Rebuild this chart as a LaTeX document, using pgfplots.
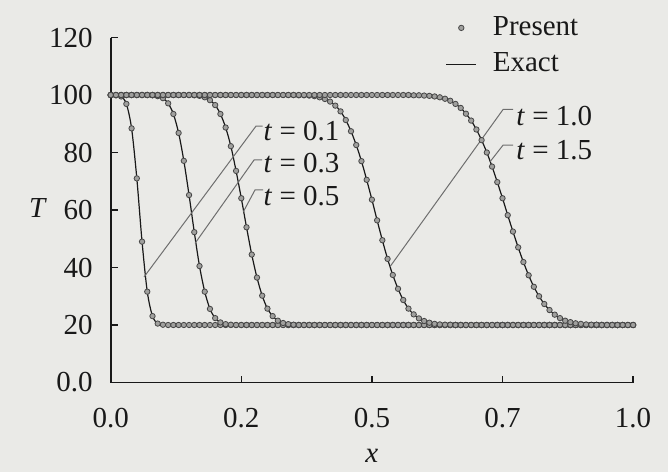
\documentclass[border=0pt]{standalone}
\usepackage{fontspec}
\setmainfont{Liberation Serif}
\usepackage{pgfplots}
\usepackage{pgfplotstable}
\pgfplotsset{compat=1.18}
\definecolor{paper}{RGB}{234,234,231}
\definecolor{ink}{RGB}{25,25,25}
\definecolor{mkfill}{RGB}{160,160,158}
\definecolor{mkdraw}{RGB}{70,70,70}
\definecolor{leader}{RGB}{110,110,110}
\pgfplotsset{
  presentleg/.style={legend image code/.code={\draw[##1] plot coordinates {(7.5pt,0pt)};}},
  exactleg/.style={legend image code/.code={\draw[##1] (0pt,0pt) -- (15pt,0pt);}},
}

% x, T(t=0.1), T(t=0.3), T(t=0.5), T(t=1.0), T(t=1.5)
\pgfplotstableread{
x a b c d e
0.00 100 100 100 100 100
0.01 99.9 100 100 100 100
0.02 99.5 100 100 100 100
0.03 96.9 100 100 100 100
0.04 88.4 100 100 100 100
0.05 71.0 100 100 100 100
0.06 49.0 100 100 100 100
0.07 31.6 100 100 100 100
0.08 23.1 99.9 100 100 100
0.09 20.5 99.6 100 100 100
0.10 20.1 98.9 100 100 100
0.11 20 97.1 100 100 100
0.12 20 93.4 100 100 100
0.13 20 86.8 100 100 100
0.14 20 77.1 100 100 100
0.15 20 65.2 100 100 100
0.16 20 52.3 99.9 100 100
0.17 20 40.5 99.7 100 100
0.18 20 31.6 99.2 100 100
0.19 20 25.6 98.2 100 100
0.20 20 22.4 96.5 100 100
0.21 20 20.9 93.4 100 100
0.22 20 20.3 88.7 100 100
0.23 20 20.1 82.2 100 100
0.24 20 20 73.6 100 100
0.25 20 20 64.1 100 100
0.26 20 20 54.0 100 100
0.27 20 20 44.5 100 100
0.28 20 20 36.5 100 100
0.29 20 20 30.2 100 100
0.30 20 20 25.7 100 100
0.31 20 20 23.1 100 100
0.32 20 20 21.5 100 100
0.33 20 20 20.7 100 100
0.34 20 20 20.3 100 100
0.35 20 20 20.1 100 100
0.36 20 20 20 99.9 100
0.37 20 20 20 99.9 100
0.38 20 20 20 99.8 100
0.39 20 20 20 99.6 100
0.40 20 20 20 99.2 100
0.41 20 20 20 98.6 100
0.42 20 20 20 97.7 100
0.43 20 20 20 96.3 100
0.44 20 20 20 94.3 100
0.45 20 20 20 91.3 100
0.46 20 20 20 87.4 100
0.47 20 20 20 82.6 100
0.48 20 20 20 77.0 100
0.49 20 20 20 70.5 100
0.50 20 20 20 63.6 100
0.51 20 20 20 56.4 100
0.52 20 20 20 49.5 100
0.53 20 20 20 43.0 100
0.54 20 20 20 37.4 100
0.55 20 20 20 32.6 100
0.56 20 20 20 28.7 100
0.57 20 20 20 25.7 100
0.58 20 20 20 23.7 99.9
0.59 20 20 20 22.3 99.9
0.60 20 20 20 21.4 99.8
0.61 20 20 20 20.8 99.7
0.62 20 20 20 20.4 99.5
0.63 20 20 20 20.2 99.2
0.64 20 20 20 20.1 98.7
0.65 20 20 20 20.1 98.0
0.66 20 20 20 20 96.9
0.67 20 20 20 20 95.5
0.68 20 20 20 20 93.5
0.69 20 20 20 20 91.1
0.70 20 20 20 20 88.0
0.71 20 20 20 20 84.3
0.72 20 20 20 20 80.0
0.73 20 20 20 20 75.1
0.74 20 20 20 20 69.7
0.75 20 20 20 20 64.1
0.76 20 20 20 20 58.2
0.77 20 20 20 20 52.5
0.78 20 20 20 20 47.0
0.79 20 20 20 20 41.9
0.80 20 20 20 20 37.3
0.81 20 20 20 20 33.3
0.82 20 20 20 20 30.0
0.83 20 20 20 20 27.3
0.84 20 20 20 20 25.2
0.85 20 20 20 20 23.6
0.86 20 20 20 20 22.4
0.87 20 20 20 20 21.5
0.88 20 20 20 20 21.0
0.89 20 20 20 20 20.6
0.90 20 20 20 20 20.4
0.91 20 20 20 20 20.2
0.92 20 20 20 20 20.1
0.93 20 20 20 20 20.1
0.94 20 20 20 20 20
0.95 20 20 20 20 20
0.96 20 20 20 20 20
0.97 20 20 20 20 20
0.98 20 20 20 20 20
0.99 20 20 20 20 20
1.00 20 20 20 20 20
}\data

\begin{document}
\fontsize{14.5}{17}\selectfont
\begin{tikzpicture}
\useasboundingbox[fill=paper] (-55.35pt,-44.75pt) rectangle (278.65pt,191.25pt);
\begin{axis}[
  at={(0,0)}, anchor=south west,
  scale only axis, width=261.2pt, height=172.5pt,
  xmin=0, xmax=1, ymin=0, ymax=120,
  axis x line=bottom, axis y line=left,
  axis line style={-, line width=0.8pt, ink},
  tick align=inside, major tick length=3.5pt,
  tick style={line width=0.7pt, ink},
  xtick={0,0.25,0.5,0.75,1}, xticklabels={0.0,0.2,0.5,0.7,1.0},
  ytick={0,20,40,60,80,100,120}, yticklabels={0.0,20,40,60,80,100,120},
  /pgf/number format/assume math mode=true,
  ticklabel style={font=\fontsize{14.5}{17}\selectfont, text=ink},
  yticklabel style={xshift=-4pt},
  xticklabel style={yshift=-8pt},
  clip=false,
  legend style={draw=none, fill=none, at={(0.629,1.086)}, anchor=north west,
    font=\fontsize{14.5}{17}\selectfont, text=ink, row sep=2.5pt,
    /tikz/every odd column/.append style={column sep=6pt}},
  legend cell align=left,
]
% Present (markers)
\addplot[only marks, mark=*, mark size=1.35pt, mark options={fill=mkfill, draw=mkdraw, line width=0.4pt}, presentleg] table[x=x,y=a]{\data};
\addlegendentry{Present}
\addplot[only marks, mark=*, mark size=1.35pt, mark options={fill=mkfill, draw=mkdraw, line width=0.4pt}, forget plot] table[x=x,y=b]{\data};
\addplot[only marks, mark=*, mark size=1.35pt, mark options={fill=mkfill, draw=mkdraw, line width=0.4pt}, forget plot] table[x=x,y=c]{\data};
\addplot[only marks, mark=*, mark size=1.35pt, mark options={fill=mkfill, draw=mkdraw, line width=0.4pt}, forget plot] table[x=x,y=d]{\data};
\addplot[only marks, mark=*, mark size=1.35pt, mark options={fill=mkfill, draw=mkdraw, line width=0.4pt}, forget plot] table[x=x,y=e]{\data};
% Exact (lines)
\addplot[ink, line width=0.6pt, smooth, no marks, exactleg] table[x=x,y=a]{\data};
\addlegendentry{Exact}
\addplot[ink, line width=0.6pt, smooth, no marks, forget plot] table[x=x,y=b]{\data};
\addplot[ink, line width=0.6pt, smooth, no marks, forget plot] table[x=x,y=c]{\data};
\addplot[ink, line width=0.6pt, smooth, no marks, forget plot] table[x=x,y=d]{\data};
\addplot[ink, line width=0.6pt, smooth, no marks, forget plot] table[x=x,y=e]{\data};

% leaders
\draw[leader, line width=0.5pt] (axis cs:0.2910,89.2) -- (axis cs:0.2782,89.2) -- (axis cs:0.0638,36.7);
\draw[leader, line width=0.5pt] (axis cs:0.2897,77.4) -- (axis cs:0.2744,77.4) -- (axis cs:0.1614,48.4);
\draw[leader, line width=0.5pt] (axis cs:0.2916,67.0) -- (axis cs:0.2763,67.0) -- (axis cs:0.2539,59.4);
\draw[leader, line width=0.5pt] (axis cs:0.7703,95.0) -- (axis cs:0.7512,95.0) -- (axis cs:0.5347,40.3);
\draw[leader, line width=0.5pt] (axis cs:0.7703,82.6) -- (axis cs:0.7512,82.6) -- (axis cs:0.7262,76.8);

\node[anchor=west, inner sep=0pt, text=ink] at (axis cs:0.2922,87.5) {\textit{t} = 0.1};
\node[anchor=west, inner sep=0pt, text=ink] at (axis cs:0.2922,76.2) {\textit{t} = 0.3};
\node[anchor=west, inner sep=0pt, text=ink] at (axis cs:0.2922,64.7) {\textit{t} = 0.5};
\node[anchor=west, inner sep=0pt, text=ink] at (axis cs:0.7760,92.8) {\textit{t} = 1.0};
\node[anchor=west, inner sep=0pt, text=ink] at (axis cs:0.7760,80.9) {\textit{t} = 1.5};

\node[text=ink] at (axis cs:0.5,-25.6) {\textit{x}};
\node[text=ink] at (axis cs:-0.139,60.7) {\textit{T}};
\end{axis}
\end{tikzpicture}
\end{document}
